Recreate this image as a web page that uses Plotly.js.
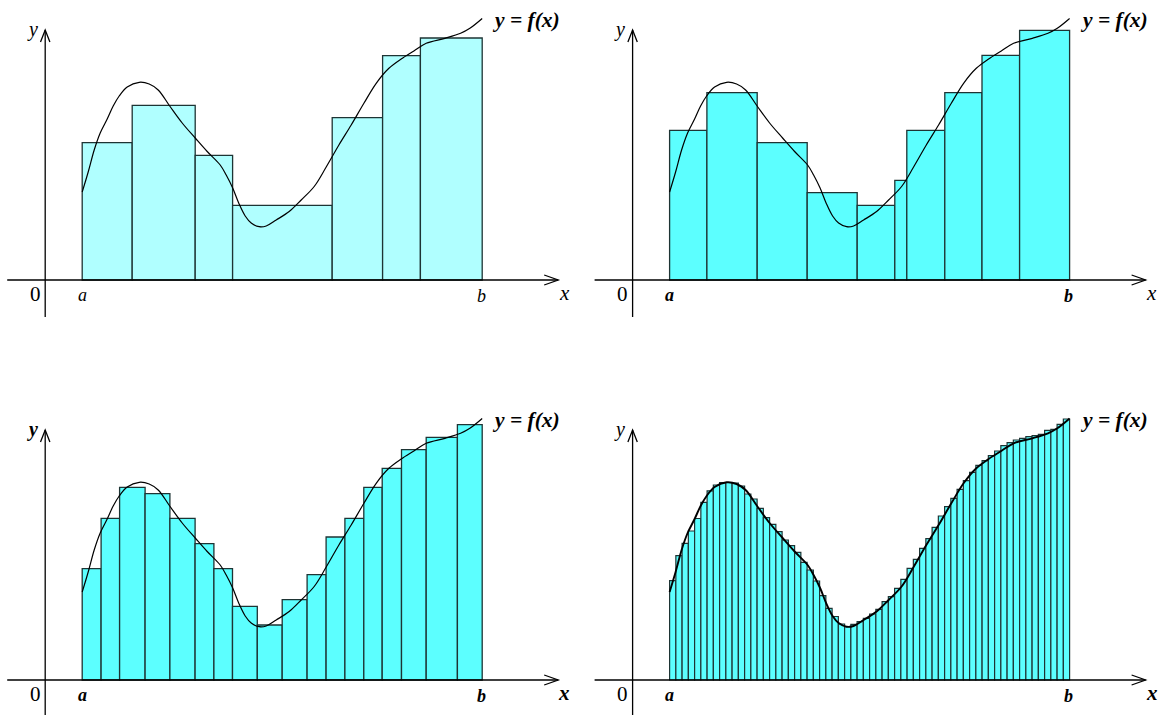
<!DOCTYPE html>
<html>
<head>
<meta charset="utf-8">
<script src="https://cdn.plot.ly/plotly-3.0.1.min.js"></script>
<style>html,body{margin:0;padding:0;background:#fff;}#chart{width:1159px;height:715px;}</style>
</head>
<body>
<div id="chart"></div>
<script>
// ---- data (x measured from the y-axis, heights above the x-axis) ----
const a = 37, b = 437;

// the curve y = f(x)
const curveX = [37, 43, 49, 55, 62, 68, 74, 82, 94, 104, 113, 124.5, 137, 150, 162, 175, 181, 187.5, 193.5, 200, 206, 214, 221, 231, 244, 256, 269, 281, 293.7, 306, 318.7, 331, 343.7, 356, 368.7, 381, 399.7, 415.4, 424.7, 437];
const curveY = [88, 108, 130, 147, 161, 174, 184, 193, 197.7, 196, 190, 174, 157, 142, 128.5, 115, 105, 92, 77, 64, 57, 53.3, 54, 60, 68.5, 80, 93.5, 113, 135, 155, 176.7, 196.7, 211.7, 221, 229, 236.7, 241.7, 246.7, 251.7, 261.5];

// panel 1 (top left): 7 rectangles
const p1Edges = [37, 87, 150, 187.4, 287, 337.4, 375.2, 437];
const p1Heights = [137.3, 174.7, 124.7, 74.7, 162.3, 224.3, 242];

// panel 2 (top right): 10 rectangles
const p2Edges = [37, 74.3, 124.6, 174.6, 224.6, 262.2, 274.2, 312.2, 349.4, 387, 437];
const p2Heights = [149.7, 187.3, 137.3, 87.3, 74.7, 99.7, 149.7, 187.3, 224.7, 249.7];

// panel 3 (bottom left): 18 rectangles
const p3Edges = [37, 55.9, 74.4, 99.9, 124.7, 149.9, 168.7, 187.3, 212.1, 237, 261.9, 280.9, 299.7, 318.6, 337, 356.3, 381, 412.2, 437];
const p3Heights = [111.3, 161.7, 192.7, 186.3, 161.7, 136.3, 111.3, 73.7, 55, 80.3, 105.3, 143, 161.7, 192.7, 211.7, 230.3, 242.7, 255.3];

// panel 4 (bottom right): 64 equal rectangles on [a, b]
const p4Count = 64;
const p4Heights = [99.3, 124.3, 136.7, 149, 161.5, 177.7, 189.2, 195, 197.3, 197.5, 197, 194, 186, 181, 171.7, 162.3,
  155.7, 148.3, 140, 134.3, 127.7, 117.7, 110, 99, 84.3, 71.7, 63.5, 56, 53.3, 55.7, 58.3, 61.7,
  66, 70.7, 78.3, 83.3, 91.7, 100.7, 111.7, 120.7, 131.7, 141.3, 152.7, 164, 173.3, 181.7, 190.7, 199.3,
  207.7, 214.7, 219.3, 224.3, 229, 234.3, 237.3, 240, 241.7, 243.3, 244.3, 245.7, 249.7, 250.7, 255.7, 261];

// tick labels
const labelOrigin = '0', labelA = 'a', labelB = 'b', labelX = 'x', labelY = 'y', curveLabel = 'y = f(x)';

// ---- build ----
const p4Edges = [];
for (let i = 0; i <= p4Count; i++) p4Edges.push(a + (b - a) * i / p4Count);

const LIGHT = '#b0ffff', AQUA = '#5cffff', EDGE = '#1e3434';

function barTrace(edges, heights, xa, ya, fill, lw) {
  const xs = [], ws = [];
  for (let i = 0; i < heights.length; i++) {
    xs.push((edges[i] + edges[i + 1]) / 2);
    ws.push(edges[i + 1] - edges[i]);
  }
  return {type: 'bar', x: xs, y: heights, width: ws, base: 0, xaxis: xa, yaxis: ya,
    marker: {color: fill, line: {color: EDGE, width: lw}}, hoverinfo: 'skip', showlegend: false};
}
function curveTrace(xa, ya, w) {
  return {type: 'scatter', mode: 'lines', x: curveX, y: curveY, xaxis: xa, yaxis: ya,
    line: {color: '#000', width: w, shape: 'spline', smoothing: 1}, hoverinfo: 'skip', showlegend: false};
}

const data = [
  barTrace(p1Edges, p1Heights, 'x', 'y', LIGHT, 1.3), curveTrace('x', 'y', 1.2),
  barTrace(p2Edges, p2Heights, 'x2', 'y2', AQUA, 1.3), curveTrace('x2', 'y2', 1.2),
  barTrace(p3Edges, p3Heights, 'x3', 'y3', AQUA, 1.3), curveTrace('x3', 'y3', 1.2),
  barTrace(p4Edges, p4Heights, 'x4', 'y4', AQUA, 1.2), curveTrace('x4', 'y4', 1.9)
];

const W = 1159, H = 715;
function ax(domain, range) {
  return {domain: domain, range: range, visible: false, showgrid: false, zeroline: false, fixedrange: true};
}
const layout = {
  width: W, height: H, margin: {l: 0, r: 0, t: 0, b: 0},
  paper_bgcolor: '#fff', plot_bgcolor: 'rgba(0,0,0,0)', showlegend: false, barmode: 'overlay',
  xaxis: ax([0, 580 / W], [-45.2, 534.8]),
  yaxis: ax([1 - 330 / H, 1], [-50, 280]),
  xaxis2: ax([580 / W, 1], [-52.6, 526.4]),
  yaxis2: ax([1 - 330 / H, 1], [-50, 280]),
  xaxis3: ax([0, 580 / W], [-45.2, 534.8]),
  yaxis3: ax([0, 1 - 380 / H], [-35, 300]),
  xaxis4: ax([580 / W, 1], [-52.6, 526.4]),
  yaxis4: ax([0, 1 - 380 / H], [-35, 300]),
  shapes: [], annotations: []
};

const FONT = 'Liberation Serif, Times New Roman, serif';
const panels = [
  {xr: 'x', yr: 'y', yb: -37, bold: {y: false, a: false, b: false, x: false, o: false}},
  {xr: 'x2', yr: 'y2', yb: -37, bold: {y: false, a: true, b: true, x: false, o: false}},
  {xr: 'x3', yr: 'y3', yb: -35, bold: {y: true, a: true, b: true, x: true, o: false}},
  {xr: 'x4', yr: 'y4', yb: -35, bold: {y: false, a: true, b: true, x: true, o: false}}
];
const axisLine = {color: '#000', width: 1.3};
panels.forEach(p => {
  const S = layout.shapes;
  S.push({type: 'line', xref: p.xr, yref: p.yr, x0: -38, y0: 0, x1: 513, y1: 0, line: axisLine});
  S.push({type: 'line', xref: p.xr, yref: p.yr, x0: 0, y0: p.yb, x1: 0, y1: 250, line: axisLine});
  S.push({type: 'path', xref: p.xr, yref: p.yr, path: 'M499,5 L513,0 L499,-5', line: axisLine});
  S.push({type: 'path', xref: p.xr, yref: p.yr, path: 'M-4.7,238 L0,250 L4.7,238', line: axisLine});
  const A = layout.annotations;
  function t(s, x, y, size, italic, bold) {
    let txt = s;
    if (italic) txt = '<i>' + txt + '</i>';
    if (bold) txt = '<b>' + txt + '</b>';
    A.push({xref: p.xr, yref: p.yr, x: x, y: y, text: txt, showarrow: false, xanchor: 'center', yanchor: 'middle',
      font: {family: FONT, size: size, color: '#000'}});
  }
  t(labelY, -13, 251, 20, true, p.bold.y);
  t(labelOrigin, -10, -14, 21, false, p.bold.o);
  t(labelA, 37, -15, 18, true, p.bold.a);
  t(labelB, 436, -16, 18, true, p.bold.b);
  t(labelX, 519, -13, 21, true, p.bold.x);
  t(curveLabel, 481, 260, 21.5, true, true);
});

Plotly.newPlot('chart', data, layout, {staticPlot: true, displayModeBar: false});
</script>
</body>
</html>
